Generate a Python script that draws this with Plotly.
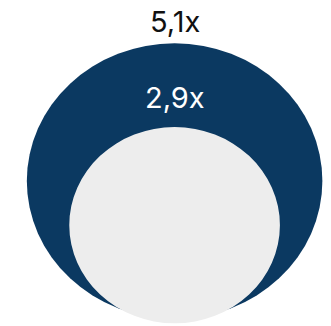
import plotly.graph_objects as go

# Data
labels = ["5,1x", "2,9x"]
values = [5.1, 2.9]

# Scale: bubble radius from value
EXP = 0.6
radii = [v ** EXP for v in values]
r_big, r_small = radii

# Pixel scales (px per data unit) chosen to match the reference's aspect
KX, KY = 55.6, 51.8
W, H = 331, 326
CX_PX, CY_PX = 174.6, 181.0

cx = 0.0
cy_big = 0.0
cy_small = cy_big - (r_big - r_small) - 0.09  # nested bubble, near-bottom aligned

colors = ["#0b3961", "#ededed"]
text_colors = ["#111111", "#ffffff"]

fig = go.Figure()
# invisible trace to establish axes
fig.add_trace(go.Scatter(x=[cx], y=[cy_big], mode="markers",
                         marker=dict(opacity=0), hoverinfo="skip", showlegend=False))

centers = [cy_big, cy_small]
for r, cyc, col in zip(radii, centers, colors):
    fig.add_shape(type="circle", xref="x", yref="y",
                  x0=cx - r, x1=cx + r, y0=cyc - r, y1=cyc + r,
                  fillcolor=col, line=dict(width=0), layer="above")

shifts = [22, 30]
for lab, r, cyc, tc, s in zip(labels, radii, centers, text_colors, shifts):
    fig.add_annotation(x=cx, y=cyc + r, text=lab, showarrow=False,
                       xref="x", yref="y", yanchor="middle", yshift=s,
                       font=dict(family="Inter, Lato, sans-serif", size=29, color=tc))

fig.update_xaxes(range=[-CX_PX / KX, (W - CX_PX) / KX], visible=False, fixedrange=True)
fig.update_yaxes(range=[-(H - CY_PX) / KY, CY_PX / KY], visible=False, fixedrange=True)
fig.update_layout(width=W, height=H, margin=dict(l=0, r=0, t=0, b=0),
                  paper_bgcolor="white", plot_bgcolor="white", showlegend=False)

fig.write_html("out.html", config={"displayModeBar": False},
               post_script="document.body.style.margin='0';document.body.style.overflow='hidden';")
